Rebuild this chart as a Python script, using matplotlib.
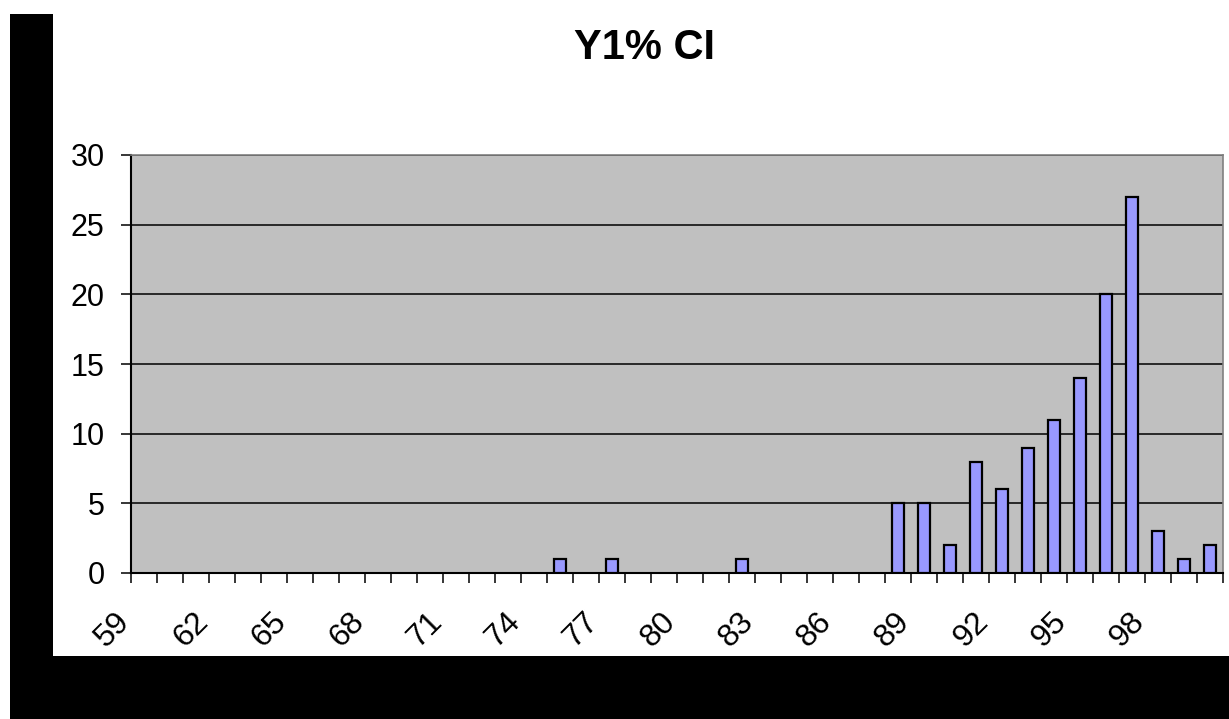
import matplotlib
matplotlib.use("Agg")
import matplotlib.pyplot as plt
from matplotlib.patches import Rectangle
from matplotlib.transforms import ScaledTranslation
import numpy as np

# Histogram of Y1% CI values
categories = list(range(59, 101))
counts = [0, 0, 0, 0, 0, 0, 0, 0, 0, 0, 0, 0, 0, 0, 0, 0,   # 59-74
          1, 0, 1, 0, 0, 0, 0, 1,                           # 75-82
          0, 0, 0, 0, 0,                                    # 83-87
          5, 5, 2, 8, 6, 9, 11, 14, 20, 27, 3, 1, 2]        # 88-100
title = "Y1% CI"
y_ticks = [0, 5, 10, 15, 20, 25, 30]
label_step = 3

W, H = 1229, 719
fig = plt.figure(figsize=(W / 100, H / 100), dpi=100)
fig.patch.set_facecolor("white")
plt.rcParams["font.family"] = ["Liberation Sans", "DejaVu Sans"]

# black frame on the left and bottom
fig.patches.append(Rectangle((10 / W, 0), 43 / W, 1 - 14 / H, transform=fig.transFigure,
                             facecolor="black", edgecolor="none", zorder=0))
fig.patches.append(Rectangle((10 / W, 0), 1 - 10 / W, 63 / H, transform=fig.transFigure,
                             facecolor="black", edgecolor="none", zorder=0))

ax = fig.add_axes([131 / W, 1 - 573 / H, (1223 - 131) / W, (573 - 155) / H])
ax.set_facecolor("#C0C0C0")

x = np.arange(len(categories))
# empty categories get no outline so nothing is drawn for them
edge_widths = [1.6 if c > 0 else 0 for c in counts]
ax.bar(x, counts, width=0.45, color="#9999FF", edgecolor="black",
       linewidth=edge_widths, zorder=3)

ax.set_xlim(-0.5, len(categories) - 0.5)
ax.set_ylim(0, 30)

# gridlines
ax.set_yticks(y_ticks)
ax.yaxis.grid(True, color="black", linewidth=1.1, zorder=1)
ax.set_axisbelow(True)
ax.tick_params(axis="y", direction="out", length=7, width=1.1, pad=12,
               labelsize=22, colors="black")

# x ticks: marks at category boundaries, labels every third category
ax.set_xticks(np.arange(-0.5, len(categories)), minor=True)
ax.set_xticks(x[::label_step])
ax.set_xticklabels([str(c) for c in categories[::label_step]], rotation=45,
                   ha="center", va="center")
ax.tick_params(axis="x", which="major", length=0, pad=41, labelsize=23)
ax.tick_params(axis="x", which="minor", direction="out", length=7, width=1.1)
shift = ScaledTranslation(-0.31, 0, fig.dpi_scale_trans)
for lbl in ax.get_xticklabels():
    lbl.set_transform(lbl.get_transform() + shift)

for side in ["left", "bottom"]:
    ax.spines[side].set_color("black")
    ax.spines[side].set_linewidth(1.5)
for side in ["top", "right"]:
    ax.spines[side].set_color("#808080")
    ax.spines[side].set_linewidth(1.2)

fig.text(644 / W, 1 - 48 / H, title, ha="center", va="center",
         fontsize=30, fontweight="bold")

fig.savefig("out.png", dpi=100)
